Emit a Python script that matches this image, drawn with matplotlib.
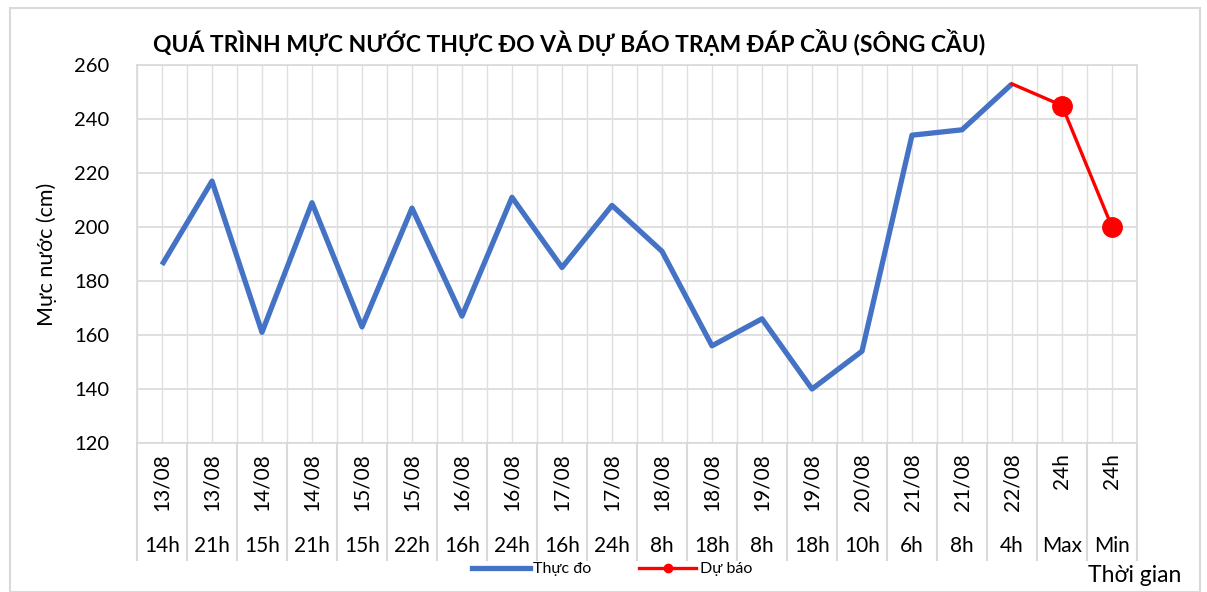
# Mực nước thực đo và dự báo - trạm Đáp Cầu
import matplotlib.pyplot as plt
import matplotlib.transforms as mtransforms
from matplotlib.patches import Rectangle
from matplotlib.lines import Line2D

plt.rcParams['font.family'] = ['Lato', 'DejaVu Sans']

ngay = ['13/08', '13/08', '14/08', '14/08', '15/08', '15/08', '16/08', '16/08',
        '17/08', '17/08', '18/08', '18/08', '19/08', '19/08', '20/08', '21/08',
        '21/08', '22/08', '24h', '24h']
gio = ['14h', '21h', '15h', '21h', '15h', '22h', '16h', '24h', '16h', '24h',
       '8h', '18h', '8h', '18h', '10h', '6h', '8h', '4h', 'Max', 'Min']
thuc_do = [186, 217, 161, 209, 163, 207, 167, 211, 185, 208,
           191, 156, 166, 140, 154, 234, 236, 253]
du_bao = [253, 245, 200]   # 22/08 4h, Max, Min

W, H = 1207, 592
fig = plt.figure(figsize=(W / 100, H / 100), dpi=100)

# khung ngoài
fig.patches.append(Rectangle((10 / W, 0), 1190 / W, 1 - 8 / H, transform=fig.transFigure,
                             fill=False, edgecolor='#d9d9d9', linewidth=1.5))

left, right, top, bottom = 137, 1137, 65, 443
ax = fig.add_axes([left / W, 1 - bottom / H, (right - left) / W, (bottom - top) / H])

n = len(gio)
x = list(range(n))
ax.set_xlim(-0.5, n - 0.5)
ax.set_ylim(120, 260)
ax.set_yticks(range(120, 261, 20))
ax.tick_params(axis='y', labelsize=14.5, length=0, pad=20)
ax.set_xticks([])

for yv in range(120, 261, 20):
    ax.axhline(yv, color='#d9d9d9', linewidth=1.2, zorder=0)
for k in range(2 * n + 1):
    ax.axvline(-0.5 + k * 0.5, color='#e0e0e0', linewidth=1.0, zorder=0)
for s in ax.spines.values():
    s.set_color('#d9d9d9')
    s.set_linewidth(1.2)

ax.plot(x[:len(thuc_do)], thuc_do, color='#4472C4', linewidth=3.8,
        solid_capstyle='butt', zorder=3)
ax.plot(x[len(thuc_do) - 1:], du_bao, color='#FF0000', linewidth=2.4, zorder=4)
ax.plot(x[len(thuc_do):], du_bao[1:], 'o', color='#FF0000', markersize=14, zorder=5)

# nhãn trục hoành hai tầng
trans = mtransforms.blended_transform_factory(ax.transData, ax.transAxes)
h = bottom - top
for k in range(n + 1):
    ax.add_line(Line2D([k - 0.5, k - 0.5], [0, -(560 - bottom) / h], transform=trans,
                       color='#d9d9d9', linewidth=1.5, clip_on=False))
for i in range(n):
    ax.text(i, -(453 - bottom) / h, ngay[i], transform=trans, rotation=90,
            ha='center', va='top', fontsize=15)
    ax.text(i, -(546 - bottom) / h, gio[i], transform=trans,
            ha='center', va='center', fontsize=15)

ax.set_ylabel('Mực nước (cm)', fontsize=15.5, labelpad=12)

fig.text(569 / W, 1 - 43 / H,
         'QUÁ TRÌNH MỰC NƯỚC THỰC ĐO VÀ DỰ BÁO TRẠM ĐÁP CẦU (SÔNG CẦU)',
         ha='center', va='center', fontsize=16.5, fontweight='bold')
fig.text(1135 / W, 1 - 575 / H, 'Thời gian', ha='center', va='center', fontsize=16.5)

handles = [Line2D([], [], color='#4472C4', linewidth=3.8),
           Line2D([], [], color='#FF0000', linewidth=2.4, marker='o', markersize=6)]
fig.legend(handles, ['Thực đo', 'Dự báo'], loc='center', ncol=2,
           bbox_to_anchor=(612 / W, 1 - 569 / H), frameon=False, fontsize=11.5,
           handlelength=3.6, handletextpad=0.2, columnspacing=3.0)

fig.savefig('out.png', dpi=100)
